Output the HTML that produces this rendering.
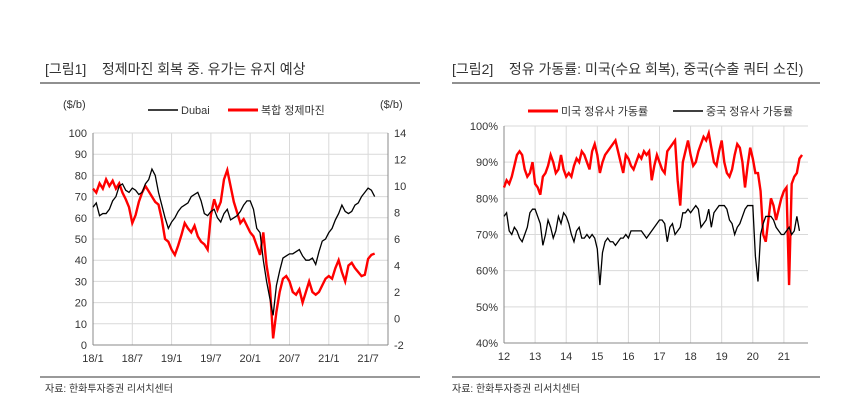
<!DOCTYPE html>
<html><head><meta charset="utf-8">
<style>
body{margin:0;background:#fff;width:851px;height:402px;overflow:hidden;font-family:"Liberation Sans","Noto Sans CJK KR",sans-serif;}
svg{position:absolute;left:0;top:0}
text{font-family:"Liberation Sans","Noto Sans CJK KR",sans-serif;fill:#333;white-space:pre}
</style></head>
<body>
<svg id="s" width="851" height="402">
 <text x="45" y="74" font-size="14" xml:space="preserve">[그림1]    정제마진 회복 중. 유가는 유지 예상</text>
 <line x1="40" y1="83" x2="420" y2="83" stroke="#222" stroke-width="1"/>
 <text x="452" y="74" font-size="14" xml:space="preserve">[그림2]    정유 가동률: 미국(수요 회복), 중국(수출 쿼터 소진)</text>
 <line x1="452" y1="83" x2="820" y2="83" stroke="#222" stroke-width="1"/>
 <line x1="40" y1="377" x2="420" y2="377" stroke="#333"/>
 <line x1="452" y1="377" x2="820" y2="377" stroke="#333"/>
 <text x="45" y="392" font-size="10">자료: 한화투자증권 리서치센터</text>
 <text x="452" y="392" font-size="10">자료: 한화투자증권 리서치센터</text>
 <g id="L"></g><g id="R"></g>
</svg>
<script>
const leftXLabels=["18/1","18/7","19/1","19/7","20/1","20/7","21/1","21/7"];
const leftYTicks=[0,10,20,30,40,50,60,70,80,90,100];
const leftY2Ticks=[-2,0,2,4,6,8,10,12,14];
const dubai=[65,67,61,62,62,64,68,70,75,76,73,72,74,73,71,72,76,78,83,80,72,66,60,55,
58,60,63,65,66,67,70,71,72,68,62,61,63,64,60,58,62,64,59,60,61,63,66,68,
68,64,55,53,40,30,22,14,28,35,41,42,43,43,44,45,42,40,40,41,38,44,49,50,
53,55,59,62,66,63,62,63,66,67,70,72,74,73,70];
const margin=[9.8,9.5,10.2,9.8,10.5,10.0,10.4,9.8,10.2,9.5,9.0,8.4,7.2,7.8,8.8,9.5,10.0,9.6,9.2,8.8,8.6,7.5,6.0,5.8,
5.2,4.8,5.5,6.3,7.2,6.8,6.5,7.0,6.2,5.8,5.6,5.2,7.8,9.0,8.2,8.8,10.5,11.2,10.0,8.8,8.0,7.2,7.5,7.0,
6.5,6.2,5.5,4.8,6.5,4.0,2.5,-1.5,0.5,2.0,3.0,3.2,2.8,2.0,1.8,2.2,1.2,2.0,2.8,2.0,1.8,2.0,2.5,3.0,
3.2,3.0,3.8,4.4,3.5,2.8,4.0,4.2,3.8,3.5,3.2,3.3,4.5,4.8,4.9];
const rightXLabels=["12","13","14","15","16","17","18","19","20","21"];
const rightYTicks=[40,50,60,70,80,90,100];
const usUtil=[83,85,84,86,89,92,93,92,88,86,87,90,84,83,81,86,87,89,92,90,87,88,92,88,
86,87,86,89,91,90,93,92,90,88,93,95,92,87,90,92,93,94,95,96,93,90,87,92,
91,89,88,90,92,91,93,92,93,85,89,92,90,88,87,93,94,95,96,85,78,90,93,96,
92,89,90,93,95,97,96,98,94,90,89,93,96,90,87,86,88,92,95,94,90,83,89,94,
91,87,87,82,70,68,74,80,78,74,77,80,82,83,56,84,86,87,91,92];
const cnUtil=[75,76,71,70,72,71,69,68,70,72,76,77,77,75,73,67,70,74,72,69,71,75,73,76,
75,73,70,68,71,72,69,69,70,69,70,69,66,56,65,68,69,68,68,67,68,69,69,70,
69,71,71,71,71,71,70,69,70,71,72,73,74,74,73,68,72,73,70,71,72,76,76,77,
76,77,78,77,72,73,74,77,72,76,77,78,78,78,77,74,73,70,72,73,75,77,78,78,
78,64,57,70,73,75,75,75,74,72,71,70,70,71,72,70,71,75,71];
const NS="http://www.w3.org/2000/svg";
function mk(p,t,a){const e=document.createElementNS(NS,t);for(const k in a)e.setAttribute(k,a[k]);p.appendChild(e);return e;}
// LEFT
const L=document.getElementById('L');
const lx0=93,lx1=388,ly0=345,ly1=133,half=39.3;
const lX=m=>lx0+m/6*half, lY=v=>ly0-(v/100)*(ly0-ly1), lY2=v=>ly0-((v+2)/16)*(ly0-ly1);
leftYTicks.forEach(v=>{const g=mk(L,'line',{x1:lx0,x2:lx1,y1:lY(v),y2:lY(v),stroke:'#d9d9d9'});
const t=mk(L,'text',{x:lx0-6,y:lY(v)+4,'font-size':11,'text-anchor':'end'});t.textContent=v;});
leftY2Ticks.forEach(v=>{const t=mk(L,'text',{x:lx1+6,y:lY2(v)+4,'font-size':11});t.textContent=v;});
leftXLabels.forEach((s,i)=>{const x=lX(i*6);const g=mk(L,'line',{x1:x,x2:x,y1:ly1,y2:ly0,stroke:'#d9d9d9'});
const t=mk(L,'text',{x:x,y:ly0+17,'font-size':11,'text-anchor':'middle'});t.textContent=s;});
[[lx0,ly1,lx0,ly0],[lx0,ly0,lx1,ly0],[lx1,ly1,lx1,ly0]].forEach(a=>{const l=mk(L,'line',{x1:a[0],y1:a[1],x2:a[2],y2:a[3],stroke:'#888'});});
let p=mk(L,'polyline',{points:margin.map((v,i)=>lX(i/2)+','+lY2(v)).join(' '),fill:'none',stroke:'#f00','stroke-width':2.4});

p=mk(L,'polyline',{points:dubai.map((v,i)=>lX(i/2)+','+lY(v)).join(' '),fill:'none',stroke:'#000','stroke-width':1.3});

[[63,"($/b)"],[380,"($/b)"]].forEach(a=>{const t=mk(L,'text',{x:a[0],y:108,'font-size':11});t.textContent=a[1];});
let l=mk(L,'line',{x1:148,x2:178,y1:110,y2:110,stroke:'#000','stroke-width':1.5});
let t=mk(L,'text',{x:181,y:114,'font-size':11});t.textContent='Dubai';
l=mk(L,'line',{x1:228,x2:258,y1:110,y2:110,stroke:'#f00','stroke-width':3});
t=mk(L,'text',{x:261,y:114,'font-size':11});t.textContent='복합 정제마진';
// RIGHT
const R=document.getElementById('R');
const rx0=504,rx1=808,ry0=343,ry1=126,yr=31.1;
const rX=m=>rx0+m/12*yr, rY=v=>ry0-((v-40)/60)*(ry0-ry1);
rightYTicks.forEach(v=>{const g=mk(R,'line',{x1:rx0,x2:rx1,y1:rY(v),y2:rY(v),stroke:'#d9d9d9'});
const t=mk(R,'text',{x:rx0-6,y:rY(v)+4,'font-size':11,'text-anchor':'end'});t.textContent=v+'%';});
rightXLabels.forEach((s,i)=>{const x=rX(i*12);const g=mk(R,'line',{x1:x,x2:x,y1:ry1,y2:ry0,stroke:'#d9d9d9'});
const t=mk(R,'text',{x:x,y:ry0+17,'font-size':11,'text-anchor':'middle'});t.textContent=s;});
[[rx0,ry1,rx0,ry0],[rx0,ry0,rx1,ry0]].forEach(a=>{const l=mk(R,'line',{x1:a[0],y1:a[1],x2:a[2],y2:a[3],stroke:'#888'});});
p=mk(R,'polyline',{points:usUtil.map((v,i)=>rX(i)+','+rY(v)).join(' '),fill:'none',stroke:'#f00','stroke-width':2.4});

p=mk(R,'polyline',{points:cnUtil.map((v,i)=>rX(i)+','+rY(v)).join(' '),fill:'none',stroke:'#000','stroke-width':1.3});

l=mk(R,'line',{x1:528,x2:558,y1:111,y2:111,stroke:'#f00','stroke-width':3});
t=mk(R,'text',{x:561,y:115,'font-size':11});t.textContent='미국 정유사 가동률';
l=mk(R,'line',{x1:673,x2:703,y1:111,y2:111,stroke:'#000','stroke-width':1.5});
t=mk(R,'text',{x:706,y:115,'font-size':11});t.textContent='중국 정유사 가동률';
</script>
</body></html>
